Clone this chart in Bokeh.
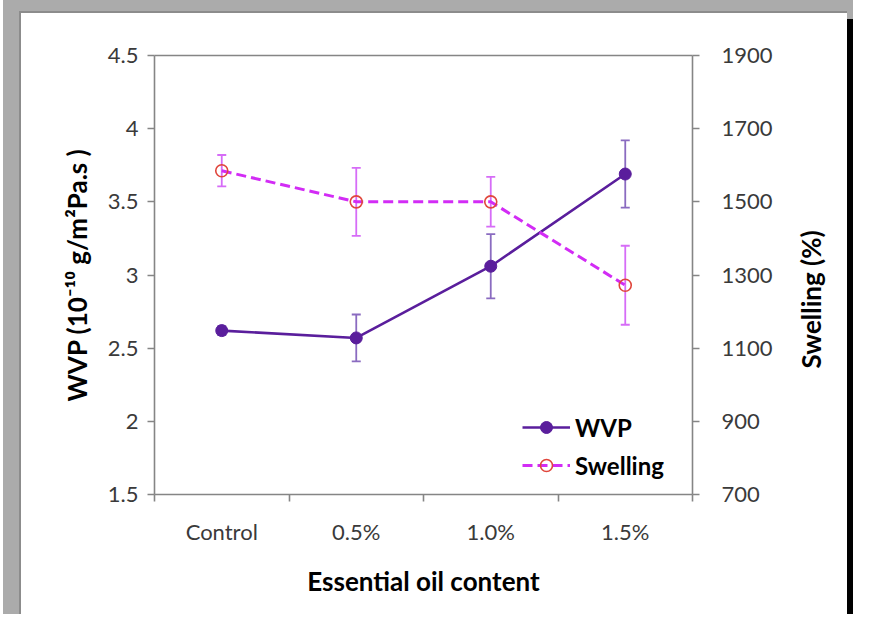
import math
from bokeh.plotting import figure
from bokeh.models import (Range1d, LinearAxis, FixedTicker, ColumnDataSource, Whisker,
                          TeeHead, Legend, LegendItem, Label)
from bokeh.embed import file_html
from bokeh.resources import INLINE

# ---- data ----
categories = ["Control", "0.5%", "1.0%", "1.5%"]
wvp = [2.62, 2.57, 3.06, 3.69]
wvp_err = [0.03, 0.16, 0.22, 0.23]
swelling = [1585, 1500, 1500, 1272]
swelling_err = [43, 93, 68, 108]
wvp_ticks = [1.5, 2.0, 2.5, 3.0, 3.5, 4.0, 4.5]
swelling_ticks = [700, 900, 1100, 1300, 1500, 1700, 1900]

FONT = "Lato"
WVP_COLOR = "#5A1E9C"
WVP_ERR = "#8A6BC0"
SW_COLOR = "#D22CF5"
SW_ERR = "#D66CF7"
SW_MARK = "#E0463C"
AXIS_COLOR = "#858585"
TICK_TEXT = "#3A3A3A"

xpos = [i + 0.5 for i in range(len(categories))]

src_w = ColumnDataSource(dict(x=xpos, y=wvp,
                              lo=[v - e for v, e in zip(wvp, wvp_err)],
                              hi=[v + e for v, e in zip(wvp, wvp_err)]))
src_s = ColumnDataSource(dict(x=xpos, y=swelling,
                              lo=[v - e for v, e in zip(swelling, swelling_err)],
                              hi=[v + e for v, e in zip(swelling, swelling_err)]))

p = figure(width=853, height=614, output_backend="svg", toolbar_location=None,
           x_range=Range1d(0, len(categories)), y_range=Range1d(wvp_ticks[0], wvp_ticks[-1]),
           min_border_left=154, min_border_right=161, min_border_top=55, min_border_bottom=120)
p.extra_y_ranges = {"sw": Range1d(swelling_ticks[0], swelling_ticks[-1])}
p.outline_line_color = None
p.xgrid.visible = False
p.ygrid.visible = False
p.background_fill_color = "white"
p.border_fill_color = None

# window frame (gray border, black shadow) painted behind the transparent canvas border
p.styles = {"background": (
    "linear-gradient(#000,#000) 847px 19px / 6px 595px no-repeat, "
    "linear-gradient(#fff,#fff) 21px 13px / 826px 601px no-repeat, "
    "linear-gradient(#8C8C8C,#8C8C8C) 19px 11px / 828px 603px no-repeat, "
    "linear-gradient(#ABABAB,#ABABAB) 3px 0px / 850px 614px no-repeat")}


def style_axis(ax):
    ax.axis_line_color = AXIS_COLOR
    ax.axis_line_width = 1.6
    ax.major_tick_line_color = AXIS_COLOR
    ax.major_tick_line_width = 1.6
    ax.minor_tick_line_color = AXIS_COLOR
    ax.minor_tick_line_width = 1.6
    ax.major_tick_in = 0
    ax.major_tick_out = 7
    ax.minor_tick_in = 0
    ax.minor_tick_out = 0
    ax.major_label_text_font = FONT
    ax.major_label_text_font_size = "22px"
    ax.major_label_text_color = TICK_TEXT
    ax.axis_label_text_font = FONT
    ax.axis_label_text_font_size = "26px"
    ax.axis_label_text_font_style = "bold"
    ax.axis_label_text_color = "black"


# x axis
xa = p.xaxis[0]
style_axis(xa)
xa.ticker = FixedTicker(ticks=xpos, minor_ticks=list(range(len(categories) + 1)))
xa.major_label_overrides = {x: c for x, c in zip(xpos, categories)}
xa.major_tick_out = 0
xa.minor_tick_out = 7
xa.major_label_standoff = 16
xa.axis_label = "Essential oil content"
xa.axis_label_standoff = 17

# left axis
ya = p.yaxis[0]
style_axis(ya)
ya.ticker = FixedTicker(ticks=wvp_ticks)
ya.major_label_overrides = {t: ("%g" % t) for t in wvp_ticks}
ya.major_label_standoff = 9
ya.axis_label = "WVP (10\u207b\u00b9\u2070 g/m\u00b2Pa.s )"
ya.axis_label_standoff = 12

# right axis
ra = LinearAxis(y_range_name="sw", ticker=FixedTicker(ticks=swelling_ticks))
style_axis(ra)
ra.major_label_standoff = 22
p.add_layout(ra, "right")
# right axis title, rotated to read bottom to top, in its own side panel
p.add_layout(Label(x=35, y=195, x_units="screen", y_units="screen",
                   text="Swelling (%)", angle=math.pi / 2,
                   text_align="center", text_baseline="middle",
                   text_font=FONT, text_font_size="26px", text_font_style="bold",
                   text_color="black"), "right")

# top line
ta = LinearAxis(ticker=FixedTicker(ticks=[]), major_label_text_font_size="0px",
                axis_line_color=AXIS_COLOR, axis_line_width=1.6,
                major_tick_line_color=None, minor_tick_line_color=None)
p.add_layout(ta, "above")

# error bars
p.add_layout(Whisker(source=src_w, base="x", upper="hi", lower="lo",
                     line_color=WVP_ERR, line_width=1.8,
                     upper_head=TeeHead(size=9, line_color=WVP_ERR, line_width=1.8),
                     lower_head=TeeHead(size=9, line_color=WVP_ERR, line_width=1.8)))
p.add_layout(Whisker(source=src_s, base="x", upper="hi", lower="lo", y_range_name="sw",
                     line_color=SW_ERR, line_width=1.8,
                     upper_head=TeeHead(size=9, line_color=SW_ERR, line_width=1.8),
                     lower_head=TeeHead(size=9, line_color=SW_ERR, line_width=1.8)))

# series
lw = p.line("x", "y", source=src_w, line_color=WVP_COLOR, line_width=2.6)
mw = p.scatter("x", "y", source=src_w, marker="circle", size=12,
               fill_color=WVP_COLOR, line_color=WVP_COLOR)
ls = p.line("x", "y", source=src_s, y_range_name="sw", line_color=SW_COLOR,
            line_width=3, line_dash="10 5")
ms = p.scatter("x", "y", source=src_s, y_range_name="sw", marker="circle", size=12,
               fill_color="white", fill_alpha=0.0, line_color=SW_MARK, line_width=1.6)

legend = Legend(items=[LegendItem(label="WVP", renderers=[lw, mw]),
                       LegendItem(label="Swelling", renderers=[ls, ms])],
                location=(368, 14), orientation="vertical",
                glyph_width=48, glyph_height=30, label_height=30, spacing=8,
                label_standoff=5, padding=0, margin=0,
                border_line_color=None, background_fill_alpha=0,
                label_text_font=FONT, label_text_font_size="24px",
                label_text_font_style="bold", label_text_color="black")
p.add_layout(legend)

open("out.html", "w").write(file_html(p, INLINE))
